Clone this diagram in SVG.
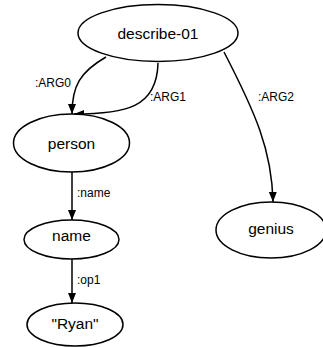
<svg xmlns="http://www.w3.org/2000/svg" width="323" height="347" viewBox="0 0 323 347">
<style>
.node ellipse{fill:#fff;stroke:#000;stroke-width:1.5}
.node text{font-family:"Liberation Sans",Arial,sans-serif;font-size:15.5px;text-anchor:middle;fill:#000}
.edges path{fill:none;stroke:#000;stroke-width:1.5}
.lbl{font-family:"Liberation Sans",Arial,sans-serif;font-size:12px;fill:#000}
</style>
<defs>
<marker id="arr" viewBox="0 0 10 10" refX="10" refY="5" markerWidth="10" markerHeight="10" markerUnits="userSpaceOnUse" orient="auto">
<path d="M0,1 L10,5 L0,9 Z" fill="#000"/>
</marker>
</defs>
<rect width="323" height="347" fill="#fff"/>
<g class="edges">
<path d="M106,57 C80,72 72,86 72,114" marker-end="url(#arr)"/>
<path d="M158,63 C157,108 125,114 74,114" marker-end="url(#arr)"/>
<path d="M224,52 C255,112 272,150 273,202" marker-end="url(#arr)"/>
<path d="M72,172 L72,220" marker-end="url(#arr)"/>
<path d="M72,259 L72,303" marker-end="url(#arr)"/>
<text class="lbl" x="35" y="87">:ARG0</text>
<text class="lbl" x="150" y="101">:ARG1</text>
<text class="lbl" x="258" y="101">:ARG2</text>
<text class="lbl" x="77" y="197">:name</text>
<text class="lbl" x="77" y="284">:op1</text>
</g>
<g id="describe-01" class="node"><ellipse cx="158" cy="33" rx="80" ry="28.5"/><text x="158" y="38.5">describe-01</text></g>
<g id="person" class="node"><ellipse cx="71.5" cy="143" rx="58" ry="29"/><text x="71.5" y="148.5">person</text></g>
<g id="name" class="node"><ellipse cx="71.5" cy="239.5" rx="47.5" ry="19.5"/><text x="71.5" y="241">name</text></g>
<g id="ryan" class="node"><ellipse cx="75" cy="324.5" rx="48" ry="21.5"/><text x="75" y="329">"Ryan"</text></g>
<g id="genius" class="node"><ellipse cx="271" cy="230" rx="55" ry="28"/><text x="271" y="233.5">genius</text></g>
</svg>
